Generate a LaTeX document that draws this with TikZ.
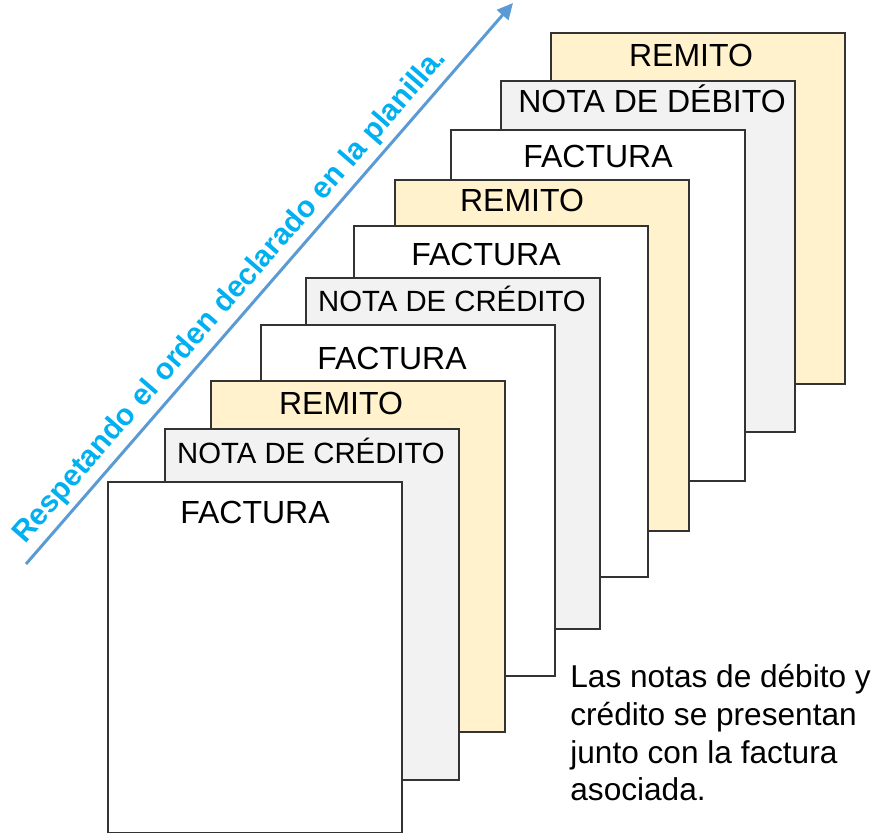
\documentclass[tikz,border=0pt]{standalone}
\usepackage{fontspec}
\setmainfont{Liberation Sans}
\usetikzlibrary{arrows.meta,calc}
\definecolor{remito}{HTML}{FFF2CC}
\definecolor{nota}{HTML}{F2F2F2}
\definecolor{flecha}{HTML}{5B9BD5}
\definecolor{leyenda}{HTML}{00B0F0}

\begin{document}
\begin{tikzpicture}[x=0.5pt,y=-0.5pt,
    hoja/.style={draw=black!80, line width=0.8pt, fill=white, anchor=north west,
      minimum width=147pt, minimum height=175.5pt, inner sep=0pt},
    titulo/.style={anchor=base, inner sep=0pt, font=\fontsize{16}{19}\selectfont},
    credito/.style={titulo, font=\fontsize{14.65}{17}\selectfont}]
  \useasboundingbox (0,0) rectangle (876,833);

    % hojas, de atras hacia adelante
    \node[hoja, fill=remito] (h1) at (550,32) {};
    \node[titulo] (t1) at (691,67) {REMITO};
    \node[hoja, fill=nota] (h2) at (500,80) {};
    \node[titulo] (t2) at (652,113) {NOTA DE DÉBITO};
    \node[hoja] (h3) at (450,129) {};
    \node[titulo] (t3) at (598,168) {FACTURA};
    \node[hoja, fill=remito] (h4) at (394,179) {};
    \node[titulo] (t4) at (522,212) {REMITO};
    \node[hoja] (h5) at (353,225) {};
    \node[titulo] (t5) at (486,266) {FACTURA};
    \node[hoja, fill=nota] (h6) at (305,277) {};
    \node[credito] (t6) at (452,312) {NOTA DE CRÉDITO};
    \node[hoja] (h7) at (260,324) {};
    \node[titulo] (t7) at (392,370) {FACTURA};
    \node[hoja, fill=remito] (h8) at (210,380) {};
    \node[titulo] (t8) at (341,415) {REMITO};
    \node[hoja, fill=nota] (h9) at (164,428) {};
    \node[credito] (t9) at (311,463) {NOTA DE CRÉDITO};
    \node[hoja] (h10) at (107,481) {};
    \node[titulo] (t10) at (255,523) {FACTURA};

    % flecha del orden
    \coordinate (inicio) at (26,564);
    \coordinate (fin) at (513,3);
    \draw[flecha, line width=1.5pt, -{Triangle[length=8pt,width=7.5pt]}] (inicio) -- (fin);
    \node[rotate=49, anchor=base, inner sep=0pt, text=leyenda,
      font=\bfseries\fontsize{15}{18}\selectfont] (orden)
      at ($($(inicio)!0.452!(fin)$)!6.5pt!90:(fin)$) {Respetando el orden declarado en la planilla.};

    % nota
    \node[anchor=north west, align=left, inner sep=0pt,
      font=\fontsize{15.8}{18.85}\selectfont] (aclaracion) at (570,664)
      {Las notas de débito y\\crédito se presentan\\junto con la factura\\asociada.};
\end{tikzpicture}
\end{document}
